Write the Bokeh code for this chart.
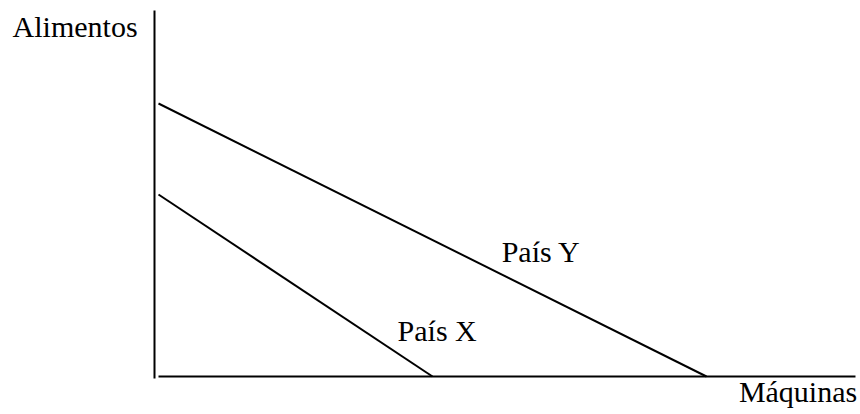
from bokeh.plotting import figure
from bokeh.models import Range1d, Label
from bokeh.embed import file_html
from bokeh.resources import INLINE

# Production possibility frontiers: (machines intercept, food intercept)
countries = ["País X", "País Y"]
machines_max = [40, 80]
food_max = [50, 75]
axis_titles = ["Máquinas", "Alimentos"]
x_axis_end = 101.75
y_axis_end = 100.55

FONT = "Liberation Serif"

p = figure(width=860, height=414, output_backend="svg", toolbar_location=None,
           x_range=Range1d(-23.066, 102.482), y_range=Range1d(-10.44, 103.30),
           min_border=0, x_axis_type=None, y_axis_type=None)
p.outline_line_color = None
p.xgrid.visible = False
p.ygrid.visible = False
p.background_fill_color = "white"
p.border_fill_color = "white"

# axes
p.line([-0.584, -0.584], [-0.55, y_axis_end], line_color="black", line_width=2)
p.line([0, x_axis_end], [0, 0], line_color="black", line_width=2)

for m, f in zip(machines_max, food_max):
    p.line([0, m], [f, 0], line_color="black", line_width=2)

def lab(x, y, t, align="left"):
    p.add_layout(Label(x=x, y=y, text=t, text_font=FONT, text_font_size="30px",
                       text_color="black", text_align=align,
                       text_baseline="alphabetic"))

lab(-21.3, 96.2, axis_titles[1])
lab(102.0, -4.1, axis_titles[0], align="right")
lab(50.1, 34.3, countries[1])
lab(34.9, 12.6, countries[0])

open("out.html", "w").write(file_html(p, INLINE))
